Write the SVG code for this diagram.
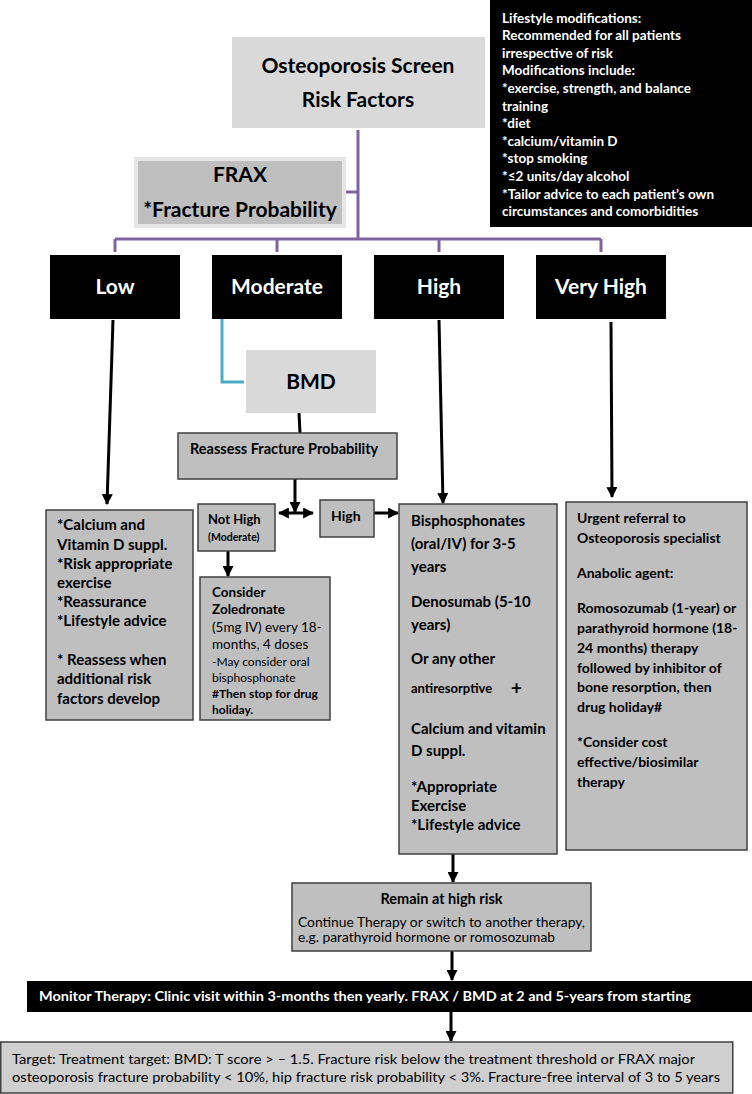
<svg xmlns="http://www.w3.org/2000/svg" width="752" height="1094" viewBox="0 0 752 1094">
<defs>
<style>
text{font-family:Lato,"Open Sans","Liberation Sans",sans-serif;fill:#000}
.b{font-weight:bold}
.w{fill:#fff}
.c{text-anchor:middle}
.lt{fill:#d9d9d9}
.gr{fill:#bfbfbf;stroke:#404040;stroke-width:1.5}
.blk{fill:#000}
.pu{stroke:#8064a2;stroke-width:3;fill:none}
.te{stroke:#4bacc6;stroke-width:3;fill:none}
.ar{stroke:#000;stroke-width:3;fill:none}
.arm{stroke:#000;stroke-width:3;fill:none;marker-end:url(#ah)}
.f21{font-size:21px}
.f15{font-size:15px}
.f14{font-size:14px}
.f13{font-size:13.5px}
</style>
<marker id="ah" viewBox="0 0 10 10" refX="9" refY="5" markerWidth="11" markerHeight="11" markerUnits="userSpaceOnUse" orient="auto-start-reverse">
<path d="M0,0 L10,5 L0,10 z" fill="#000"/>
</marker>
</defs>
<rect width="752" height="1094" fill="#fff"/>

<g id="connectors">
<path class="pu" d="M358,130 V239 M346,192 H358 M115,239 H601 M115,239 V252 M277,239 V252 M439,239 V252 M601,239 V252"/>
<path class="te" d="M222,319 V382 H244"/>
<path class="ar" d="M299,413 L300,433"/>
<path class="arm" d="M113,320 L107,504"/>
<path class="arm" d="M439,320 L443,503"/>
<path class="arm" d="M611,322 L612,497"/>
<path class="arm" d="M295,479 V512"/>
<path class="ar" d="M279,513 H313" marker-start="url(#ah)" marker-end="url(#ah)"/>
<path class="arm" d="M374,513 H398"/>
<path class="arm" d="M228,551 V576"/>
<path class="arm" d="M453,854 V882"/>
<path class="arm" d="M452,951 V980"/>
<path class="arm" d="M451,1012 V1041"/>
</g>

<g id="lifestyle">
<rect x="490" y="0" width="262" height="227" class="blk"/>
<text class="b w f13" x="502">
<tspan x="502" y="22.5">Lifestyle modifications:</tspan>
<tspan x="502" y="40">Recommended for all patients</tspan>
<tspan x="502" y="57.7">irrespective of risk</tspan>
<tspan x="502" y="75.3">Modifications include:</tspan>
<tspan x="502" y="92.9">*exercise, strength, and balance</tspan>
<tspan x="502" y="110.5">training</tspan>
<tspan x="502" y="128.1">*diet</tspan>
<tspan x="502" y="145.7">*calcium/vitamin D</tspan>
<tspan x="502" y="163.3">*stop smoking</tspan>
<tspan x="502" y="180.9">*≤2 units/day alcohol</tspan>
<tspan x="502" y="198.5">*Tailor advice to each patient’s own</tspan>
<tspan x="502" y="216.1">circumstances and comorbidities</tspan>
</text>
</g>

<g id="screen">
<rect x="232" y="37" width="253" height="91" class="lt"/>
<text class="b c f21" x="358" y="73">Osteoporosis Screen</text>
<text class="b c f21" x="358" y="107">Risk Factors</text>
</g>

<g id="frax">
<rect x="134" y="157" width="212" height="71" fill="#e6e6e6"/>
<rect x="138" y="161" width="204" height="63" fill="#bfbfbf"/>
<text class="b c f21" x="240" y="182">FRAX</text>
<text class="b c f21" x="240" y="217">*Fracture Probability</text>
</g>

<g id="low">
<rect x="50" y="255" width="130" height="64" class="blk"/>
<text class="b w c f21" x="115" y="294">Low</text>
</g>
<g id="moderate">
<rect x="212" y="255" width="130" height="64" class="blk"/>
<text class="b w c f21" x="277" y="294">Moderate</text>
</g>
<g id="high">
<rect x="374" y="255" width="130" height="64" class="blk"/>
<text class="b w c f21" x="439" y="294">High</text>
</g>
<g id="veryhigh">
<rect x="536" y="255" width="130" height="64" class="blk"/>
<text class="b w c f21" x="601" y="294">Very High</text>
</g>

<g id="bmd">
<rect x="246" y="350" width="130" height="63" class="lt"/>
<text class="b c f21" x="311" y="389">BMD</text>
</g>

<g id="reassess">
<rect x="178" y="433" width="219" height="46" class="gr"/>
<text class="b" font-size="14.5" x="190" y="454">Reassess Fracture Probability</text>
</g>

<g id="lowaction">
<rect x="46" y="510" width="147" height="210" class="gr"/>
<text class="b f15">
<tspan x="57" y="530">*Calcium and</tspan>
<tspan x="57" y="550">Vitamin D suppl.</tspan>
<tspan x="57" y="569">*Risk appropriate</tspan>
<tspan x="57" y="588">exercise</tspan>
<tspan x="57" y="607">*Reassurance</tspan>
<tspan x="57" y="626">*Lifestyle advice</tspan>
<tspan x="57" y="665">* Reassess when</tspan>
<tspan x="57" y="684">additional risk</tspan>
<tspan x="57" y="704">factors develop</tspan>
</text>
</g>

<g id="nothigh">
<rect x="198" y="504" width="77" height="47" class="gr"/>
<text class="b" font-size="13" x="208" y="524">Not High</text>
<text class="b" font-size="10.5" x="208" y="541">(Moderate)</text>
</g>

<g id="highsmall">
<rect x="320" y="500" width="54" height="37" class="gr"/>
<text class="b f14" x="331" y="521">High</text>
</g>

<g id="zoledronate">
<rect x="200" y="577" width="130" height="143" class="gr"/>
<text class="b" font-size="13.5" x="212" y="597">Consider</text>
<text class="b" font-size="13.5" x="212" y="614">Zoledronate</text>
<text font-size="13.5" x="212" y="632">(5mg IV) every 18-</text>
<text font-size="13.5" x="212" y="649">months, 4 doses</text>
<text font-size="12" x="212" y="665.5">-May consider oral</text>
<text font-size="12" x="212" y="681.5">bisphosphonate</text>
<text class="b" font-size="12" x="212" y="697.5">#Then stop for drug</text>
<text class="b" font-size="12" x="212" y="713.5">holiday.</text>
</g>

<g id="highaction">
<rect x="399" y="504" width="158" height="350" class="gr"/>
<text class="b f15">
<tspan x="411" y="526">Bisphosphonates</tspan>
<tspan x="411" y="549">(oral/IV) for 3-5</tspan>
<tspan x="411" y="572">years</tspan>
<tspan x="411" y="607">Denosumab (5-10</tspan>
<tspan x="411" y="630">years)</tspan>
<tspan x="411" y="664">Or any other</tspan>
</text>
<text class="b" font-size="13" x="411" y="693">antiresorptive</text>
<text class="b" font-size="19" x="511" y="695">+</text>
<text class="b f15">
<tspan x="411" y="734">Calcium and vitamin</tspan>
<tspan x="411" y="756">D suppl.</tspan>
<tspan x="411" y="792">*Appropriate</tspan>
<tspan x="411" y="811">Exercise</tspan>
<tspan x="411" y="830">*Lifestyle advice</tspan>
</text>
</g>

<g id="veryhighaction">
<rect x="566" y="502" width="181" height="348" class="gr"/>
<text class="b f14">
<tspan x="577" y="523">Urgent referral to</tspan>
<tspan x="577" y="543">Osteoporosis specialist</tspan>
<tspan x="577" y="578">Anabolic agent:</tspan>
<tspan x="577" y="613">Romosozumab (1-year) or</tspan>
<tspan x="577" y="633">parathyroid hormone (18-</tspan>
<tspan x="577" y="653">24 months) therapy</tspan>
<tspan x="577" y="673">followed by inhibitor of</tspan>
<tspan x="577" y="692">bone resorption, then</tspan>
<tspan x="577" y="712">drug holiday#</tspan>
<tspan x="577" y="747">*Consider cost</tspan>
<tspan x="577" y="767">effective/biosimilar</tspan>
<tspan x="577" y="787">therapy</tspan>
</text>
</g>

<g id="remain">
<rect x="292" y="883" width="299" height="68" class="gr"/>
<text class="b c" font-size="14.5" x="441.5" y="904">Remain at high risk</text>
<text font-size="13.5" x="298" y="927" textLength="287" lengthAdjust="spacingAndGlyphs">Continue Therapy or switch to another therapy,</text>
<text font-size="13.5" x="298" y="942" textLength="257" lengthAdjust="spacingAndGlyphs">e.g. parathyroid hormone or romosozumab</text>
</g>

<g id="monitor">
<rect x="27" y="981" width="725" height="31" class="blk"/>
<text class="b w f14" x="39" y="1001" textLength="652" lengthAdjust="spacingAndGlyphs">Monitor Therapy: Clinic visit within 3-months then yearly. FRAX / BMD at 2 and 5-years from starting</text>
</g>

<g id="target">
<rect x="0.75" y="1042" width="732" height="51" fill="#cfcfcf" stroke="#404040" stroke-width="1.5"/>
<text font-size="14" x="12" y="1064" textLength="683" lengthAdjust="spacingAndGlyphs">Target: Treatment target: BMD: T score &gt; – 1.5. Fracture risk below the treatment threshold or FRAX major</text>
<text font-size="14" x="12" y="1082" textLength="708" lengthAdjust="spacingAndGlyphs">osteoporosis fracture probability &lt; 10%, hip fracture risk probability &lt; 3%. Fracture-free interval of 3 to 5 years</text>
</g>
</svg>
